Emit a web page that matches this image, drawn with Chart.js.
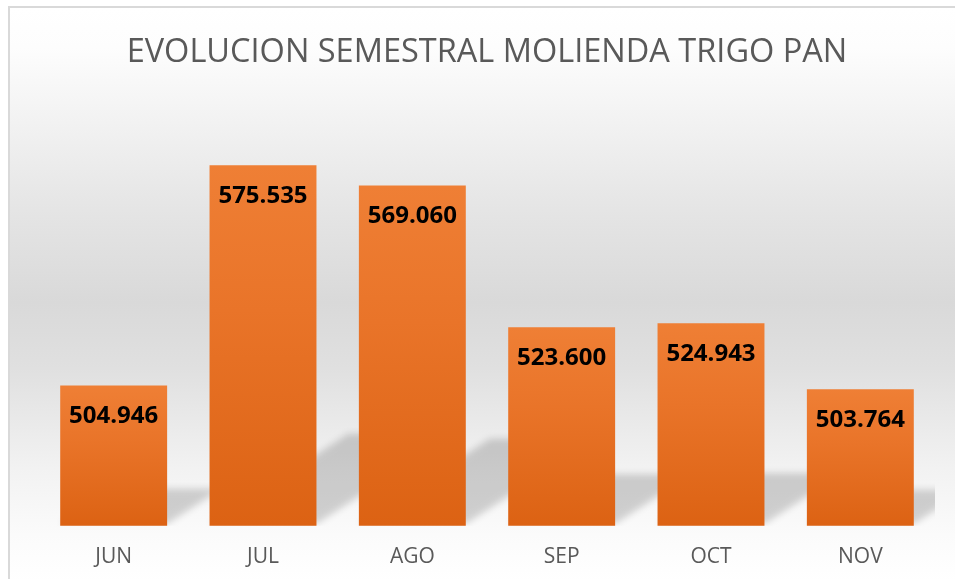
<!DOCTYPE html>
<html>
<head>
<meta charset="utf-8">
<script src="https://cdn.jsdelivr.net/npm/chart.js@4/dist/chart.umd.min.js"></script>
<style>
  html, body { margin: 0; padding: 0; width: 955px; height: 579px; overflow: hidden; background: #fff; }
  #marco {
    position: absolute; left: 8px; top: 6px; width: 1000px; height: 600px;
    border-left: 2px solid #d9d9d9; border-top: 2px solid #d9d9d9;
    background: linear-gradient(to bottom, #ffffff 0px, #fdfdfd 40px, #f5f5f5 94px, #e6e6e6 194px,
      #d9d9d9 294px, #e0e0e0 361px, #ececec 427px, #f2f2f2 461px, #fbfbfb 527px, #ffffff 573px);
  }
  #grafico { position: absolute; left: 0; top: 0; }
</style>
</head>
<body>
<div id="marco"></div>
<canvas id="grafico" width="955" height="598"></canvas>
<script>
// Datos del grafico
var meses = ['JUN', 'JUL', 'AGO', 'SEP', 'OCT', 'NOV'];
var molienda = [504946, 575535, 569060, 523600, 524943, 503764];
var ejeMin = 460000;
var ejeMax = 600000;
var anchoBarra = 0.716;

function formatoMiles(v) {
    return String(v).replace(/\B(?=(\d{3})+(?!\d))/g, '.');
}

// Degradado naranja por barra (de arriba hacia abajo)
function colorBarra(ctx) {
    var chart = ctx.chart;
    var y = chart.scales.y;
    if (!y || ctx.dataIndex === undefined) return '#e8742a';
    var top = y.getPixelForValue(molienda[ctx.dataIndex]);
    var bottom = y.getPixelForValue(ejeMin);
    if (!isFinite(top) || !isFinite(bottom) || top === bottom) return '#e8742a';
    var g = chart.ctx.createLinearGradient(0, top, 0, bottom);
    g.addColorStop(0, '#ef7f35');
    g.addColorStop(0.4, '#e97429');
    g.addColorStop(1, '#dc6213');
    return g;
}

// Sombras proyectadas detras de las barras (se pintan debajo con destination-over)
var sombras = {
    id: 'sombras',
    afterDatasetsDraw: function (chart) {
        var c = chart.ctx;
        var area = chart.chartArea;
        var sx = chart.scales.x, sy = chart.scales.y;
        var paso = sx.getPixelForValue(1) - sx.getPixelForValue(0);
        var w = paso * anchoBarra;
        var base = sy.getPixelForValue(ejeMin);
        var lejos = 3000;
        c.save();
        c.globalCompositeOperation = 'destination-over';
        c.beginPath();
        c.rect(area.left, area.top, area.right - area.left, area.bottom - area.top);
        c.clip();
        c.shadowColor = 'rgba(0,0,0,0.17)';
        c.shadowBlur = 7;
        c.shadowOffsetX = lejos;
        c.shadowOffsetY = 0;
        c.fillStyle = '#000';
        molienda.forEach(function (v, i) {
            var cx = sx.getPixelForValue(i);
            var h = base - sy.getPixelForValue(v);
            var izq = cx - w / 2 - lejos;
            var der = cx + w / 2 - lejos;
            var dx = h * 0.385, dy = h * 0.25;
            var b = base - 2;
            c.beginPath();
            c.moveTo(izq, b);
            c.lineTo(der, b);
            c.lineTo(der + dx, b - dy);
            c.lineTo(izq + dx, b - dy);
            c.closePath();
            c.fill();
        });
        c.restore();
    }
};

// Etiquetas de valor dentro de las barras
var etiquetas = {
    id: 'etiquetas',
    afterDatasetsDraw: function (chart) {
        var c = chart.ctx;
        var meta = chart.getDatasetMeta(0);
        c.save();
        c.font = 'bold 24px "Open Sans"';
        c.fillStyle = '#000000';
        c.textAlign = 'center';
        c.textBaseline = 'middle';
        meta.data.forEach(function (bar, i) {
            c.fillText(formatoMiles(molienda[i]), bar.x, bar.y + 30.5);
        });
        c.restore();
    }
};

var ctx = document.getElementById('grafico').getContext('2d');
new Chart(ctx, {
    type: 'bar',
    data: {
        labels: meses,
        datasets: [{
            label: 'Molienda',
            data: molienda,
            backgroundColor: colorBarra,
            borderWidth: 0,
            categoryPercentage: 1,
            barPercentage: anchoBarra
        }]
    },
    options: {
        responsive: false,
        animation: false,
        layout: { padding: { left: 39, right: 20, top: 0, bottom: 9 } },
        plugins: {
            legend: { display: false },
            tooltip: { enabled: false },
            title: {
                display: true,
                text: 'EVOLUCION SEMESTRAL MOLIENDA TRIGO PAN',
                color: '#595959',
                font: { family: 'Open Sans', size: 32.5, weight: 'normal' },
                padding: { top: 33, bottom: 17 }
            }
        },
        scales: {
            x: {
                grid: { display: false, drawTicks: false },
                border: { display: false },
                ticks: {
                    color: '#595959',
                    font: { family: 'Open Sans', size: 21 },
                    padding: 19
                }
            },
            y: {
                display: false,
                min: ejeMin,
                max: ejeMax
            }
        }
    },
    plugins: [sombras, etiquetas]
});
</script>
</body>
</html>
